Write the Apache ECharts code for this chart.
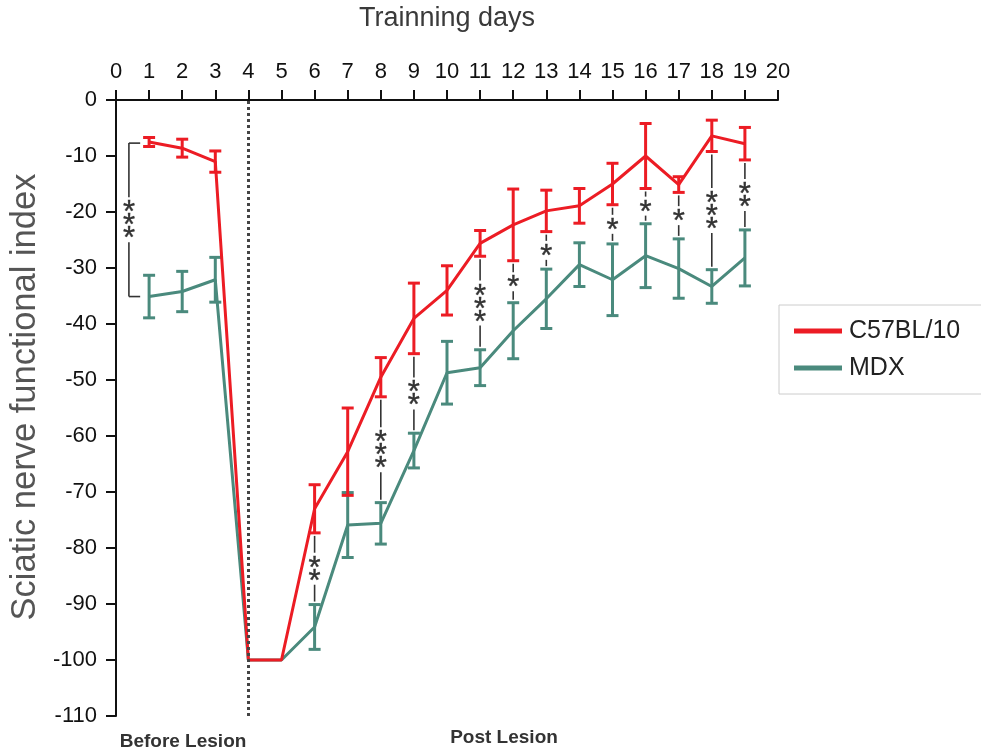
<!DOCTYPE html>
<html>
<head>
<meta charset="utf-8">
<script src="https://cdn.jsdelivr.net/npm/echarts@6/dist/echarts.min.js"></script>
<style>html,body{margin:0;padding:0;background:#fff;}#c{width:981px;height:753px;}</style>
</head>
<body>
<div id="c"></div>
<script>
const days = [1,2,3,4,5,6,7,8,9,10,11,12,13,14,15,16,17,18,19];
const c57Mean = [-7.5,-8.6,-11,-100,-100,-73,-62.8,-49.5,-39,-34,-25.6,-22.3,-19.8,-18.9,-15,-10,-15.1,-6.4,-7.8];
const c57Err  = [0.8,1.6,1.9,0,0,4.3,7.8,3.5,6.3,4.4,2.3,6.4,3.7,3.1,3.7,5.8,1.4,2.8,2.9];
const mdxMean = [-35.1,-34.2,-32.1,-100,-100,-94.1,-75.9,-75.6,-62.6,-48.7,-47.8,-41.2,-35.5,-29.4,-32.1,-27.8,-30.1,-33.3,-28.2];
const mdxErr  = [3.8,3.6,4,0,0,4,5.8,3.7,3.1,5.6,3.2,5,5.3,3.9,6.4,5.7,5.3,3,5];
const sigDays  = [6,8,9,11,12,13,15,16,17,18,19];
const sigStars = ['**','***','**','***','*','*','*','*','*','***','**'];
const preLesionSig = '***';
const xTicks = {min:0, max:20, interval:1};
const yTicks = {min:-110, max:0, interval:10};
const xName = 'Trainning days';
const yName = 'Sciatic nerve functional index';

const RED = '#ec1c24';
const TEAL = '#4a8a7d';
const STAR_COLOR = '#333';
const FONT = '"Liberation Sans", Arial, sans-serif';
const STEP = 13;

function pairs(mean){ return days.map((d,i)=>[d, mean[i]]); }
function errData(mean, err){
  const out = [];
  days.forEach((d,i)=>{ if (err[i] > 0) out.push([d, mean[i]-err[i], mean[i]+err[i]]); });
  return out;
}
function errRender(color){
  return function(params, api){
    const x = api.value(0);
    const lo = api.coord([x, api.value(1)]);
    const hi = api.coord([x, api.value(2)]);
    const hw = 6;
    const st = {stroke: color, lineWidth: 3};
    return {type:'group', children:[
      {type:'line', shape:{x1:lo[0],y1:lo[1],x2:hi[0],y2:hi[1]}, style:st},
      {type:'line', shape:{x1:lo[0]-hw,y1:lo[1],x2:lo[0]+hw,y2:lo[1]}, style:st},
      {type:'line', shape:{x1:hi[0]-hw,y1:hi[1],x2:hi[0]+hw,y2:hi[1]}, style:st}
    ]};
  };
}
function starGroup(cx, cy, n){
  const items = [];
  for (let k=0;k<n;k++){
    const y = cy + (k-(n-1)/2)*STEP;
    items.push({type:'text', style:{text:'*', x:cx, y:y+7, align:'center', verticalAlign:'middle',
      font:'31px '+FONT, fill:STAR_COLOR, stroke:STAR_COLOR, lineWidth:0.4}});
  }
  return items;
}
const sigData = sigDays.map((d,j)=>{
  const i = days.indexOf(d);
  return [d, c57Mean[i]-c57Err[i], mdxMean[i]+mdxErr[i], sigStars[j].length];
});
function sigRender(params, api){
  const x = api.value(0);
  const top = api.coord([x, api.value(1)]);
  const bot = api.coord([x, api.value(2)]);
  const n = api.value(3);
  const cy = (top[1]+bot[1])/2;
  const half = n*STEP/2 + 3;
  const st = {stroke:STAR_COLOR, lineWidth:1.6};
  const ch = [];
  if (cy-half > top[1]+3) ch.push({type:'line', shape:{x1:top[0],y1:top[1]+3,x2:top[0],y2:cy-half}, style:st});
  if (cy+half < bot[1]-3) ch.push({type:'line', shape:{x1:bot[0],y1:cy+half,x2:bot[0],y2:bot[1]-3}, style:st});
  return {type:'group', children: ch.concat(starGroup(top[0], cy, n))};
}
const bracketData = [[0.39, c57Mean[0]-0.2, mdxMean[0], preLesionSig.length, 0.73]];
function bracketRender(params, api){
  const x = api.value(0);
  const top = api.coord([x, api.value(1)]);
  const bot = api.coord([x, api.value(2)]);
  const tip = api.coord([api.value(4), api.value(1)]);
  const n = api.value(3);
  const cy = (top[1]+bot[1])/2;
  const half = n*STEP/2 + 3;
  const st = {stroke:STAR_COLOR, lineWidth:1.6};
  return {type:'group', children:[
    {type:'line', shape:{x1:tip[0],y1:top[1],x2:top[0],y2:top[1]}, style:st},
    {type:'line', shape:{x1:top[0],y1:top[1],x2:top[0],y2:cy-half}, style:st},
    {type:'line', shape:{x1:bot[0],y1:cy+half,x2:bot[0],y2:bot[1]}, style:st},
    {type:'line', shape:{x1:bot[0],y1:bot[1],x2:tip[0],y2:bot[1]}, style:st}
  ].concat(starGroup(top[0], cy, n))};
}

const chart = echarts.init(document.getElementById('c'), null, {renderer:'canvas'});
chart.setOption({
  animation:false,
  backgroundColor:'#fff',
  grid:{left:116, top:100, right:203, bottom:37, containLabel:false, outerBoundsMode:'none'},
  xAxis:{
    type:'value', position:'top', min:xTicks.min, max:xTicks.max, interval:xTicks.interval,
    axisLine:{onZero:false, lineStyle:{color:'#111', width:2}},
    axisTick:{show:true, length:10, lineStyle:{color:'#111', width:2}},
    axisLabel:{fontSize:22, color:'#111', fontFamily:FONT, margin:17},
    splitLine:{show:false}
  },
  yAxis:{
    type:'value', min:yTicks.min, max:yTicks.max, interval:yTicks.interval,
    axisLine:{onZero:false, lineStyle:{color:'#111', width:2}},
    axisTick:{show:true, length:10, lineStyle:{color:'#111', width:2}},
    axisLabel:{fontSize:22, color:'#111', fontFamily:FONT, margin:19},
    splitLine:{show:false}
  },
  legend:{
    data:['C57BL/10','MDX'], orient:'vertical', left:779, top:305,
    padding:[12,60,12,15], itemGap:9, itemWidth:48, itemHeight:5, icon:'rect',
    borderColor:'#ccc', borderWidth:1,
    textStyle:{fontSize:25, color:'#222', fontFamily:FONT, lineHeight:28, padding:[0,0,0,2]}
  },
  graphic:[
    {type:'text', x:447, y:19, style:{text:xName, font:'27px '+FONT, fill:'#3a3a3a', align:'center', verticalAlign:'middle'}},
    {type:'text', x:25, y:397, rotation:Math.PI/2, style:{text:yName, font:'34.5px '+FONT, fill:'#555', align:'center', verticalAlign:'middle'}},
    {type:'text', x:183, y:742, style:{text:'Before Lesion', font:'bold 19px '+FONT, fill:'#333', align:'center', verticalAlign:'middle'}},
    {type:'text', x:504, y:738, style:{text:'Post Lesion', font:'bold 19px '+FONT, fill:'#333', align:'center', verticalAlign:'middle'}}
  ],
  series:[
    {type:'line', name:'C57BL/10', data:pairs(c57Mean), symbol:'none', lineStyle:{color:RED, width:3}, itemStyle:{color:RED}, z:3,
      markLine:{silent:true, symbol:'none', label:{show:false},
        lineStyle:{color:'#444', type:'dotted', width:3}, data:[{xAxis:4}]}},
    {type:'line', name:'MDX', data:pairs(mdxMean), symbol:'none', lineStyle:{color:TEAL, width:3}, itemStyle:{color:TEAL}, z:2},
    {type:'custom', name:'c57err', data:errData(c57Mean,c57Err), renderItem:errRender(RED), z:3, silent:true},
    {type:'custom', name:'mdxerr', data:errData(mdxMean,mdxErr), renderItem:errRender(TEAL), z:2, silent:true},
    {type:'custom', name:'sig', data:sigData, renderItem:sigRender, z:4, silent:true},
    {type:'custom', name:'bracket', data:bracketData, renderItem:bracketRender, z:4, silent:true}
  ]
});
</script>
</body>
</html>
